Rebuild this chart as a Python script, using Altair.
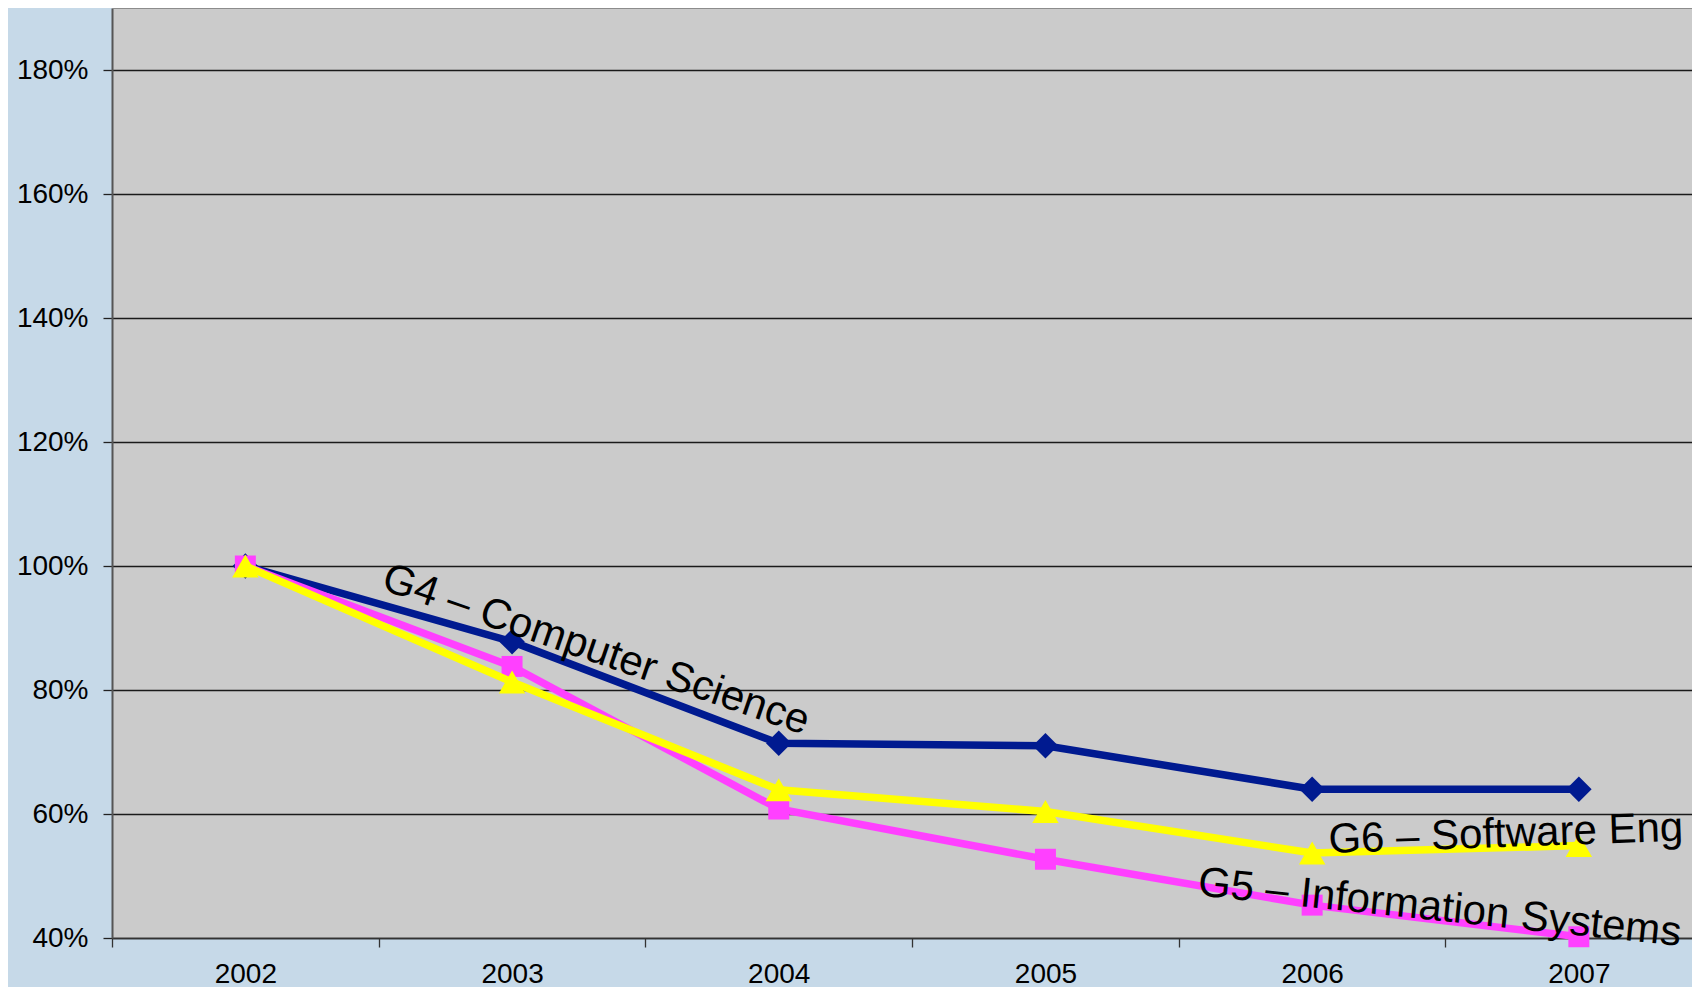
import altair as alt
import pandas as pd

# ---- data ----
years = [2002, 2003, 2004, 2005, 2006, 2007]
series_names = ["G4 – Computer Science", "G5 – Information Systems", "G6 – Software Eng"]
g4_values = [100, 87.8, 71.4, 71.0, 64.0, 64.0]
g5_values = [100, 83.8, 60.8, 52.7, 45.3, 40.2]
g6_values = [100, 81.3, 63.9, 60.4, 53.7, 54.9]
y_ticks = [40, 60, 80, 100, 120, 140, 160, 180]

# label annotations (data-space anchor + rotation)
label_year = [2002.505, 2005.568, 2006.063]
label_value = [96.3, 46.9, 53.7]
label_angle = [19, 6, 358]

colors = ["#001A90", "#FF40FF", "#FFFF00"]
shapes = ["diamond", "square", "triangle-up"]
sizes = [650, 440, 700]

FONT = "Liberation Sans, Arial, sans-serif"
W, H = 1580, 930

rows = []
for name, vals in zip(series_names, [g4_values, g5_values, g6_values]):
    for yr, v in zip(years, vals):
        rows.append({"series": name, "year": yr, "value": v})
df = pd.DataFrame(rows)

labels_df = pd.DataFrame({"text": series_names, "year": label_year,
                          "value": label_value, "angle": label_angle})

x_ticks = []
for yr in years:
    x_ticks += [yr - 0.5, yr]
x_ticks.append(years[-1] + 0.5)

x_scale = alt.Scale(domain=[2001.5, 2001.5 + W / 266.7], nice=False, zero=False)
y_scale = alt.Scale(domain=[40, 190], nice=False, zero=False)

x_enc = alt.X("year:Q", scale=x_scale, title=None,
              axis=alt.Axis(values=x_ticks, grid=False,
                            labelExpr="datum.value % 1 == 0 ? datum.value : ''",
                            tickOpacity={"condition": {"test": "datum.value % 1 == 0", "value": 0}, "value": 1},
                            tickSize=9, tickWidth=1.3, tickColor="#333",
                            domainColor="#333", domainWidth=1.6,
                            labelFontSize=28, labelFont=FONT, labelColor="black",
                            labelPadding=13, labelFlush=False, labelOverlap=False))
y_enc = alt.Y("value:Q", scale=y_scale, title=None,
              axis=alt.Axis(values=y_ticks, grid=True, gridColor="#1a1a1a", gridWidth=1.3,
                            labelExpr="datum.value + '%'",
                            tickSize=9, tickWidth=1.3, tickColor="#222",
                            domainColor="#555", domainWidth=2,
                            labelFontSize=28, labelFont=FONT, labelColor="black",
                            labelPadding=15, labelFlush=False))

base = alt.Chart(df)

top_border = alt.Chart(df).mark_rule(color="#8c8c8c", strokeWidth=2).encode(
    y=alt.value(0), x=alt.value(0), x2=alt.value(W))

layers = [top_border]
for name, col, shp, sz in zip(series_names, colors, shapes, sizes):
    sub = base.transform_filter(alt.datum.series == name)
    layers.append(sub.mark_line(color=col, strokeWidth=7.5).encode(x=x_enc, y=y_enc))
    layers.append(sub.mark_point(shape=shp, size=sz, filled=True, opacity=1,
                                 color=col, strokeWidth=0).encode(x=x_enc, y=y_enc))

for t, yr, v, a in zip(series_names, label_year, label_value, label_angle):
    one = labels_df[labels_df["text"] == t]
    layers.append(alt.Chart(one).mark_text(align="left", baseline="alphabetic",
                                           angle=a, fontSize=42, font=FONT,
                                           color="black").encode(
        x=alt.X("year:Q", scale=x_scale), y=alt.Y("value:Q", scale=y_scale),
        text="text:N"))

chart = alt.layer(*layers).properties(
    width=W, height=H,
    autosize=alt.AutoSizeParams(type="none"),
    padding={"left": 104, "top": 0, "right": 0, "bottom": 49},
    background="#C6D9E8",
).configure_view(fill="#CBCBCB", stroke="transparent")

chart.save("out.html", embed_options={"renderer": "svg", "actions": False})
